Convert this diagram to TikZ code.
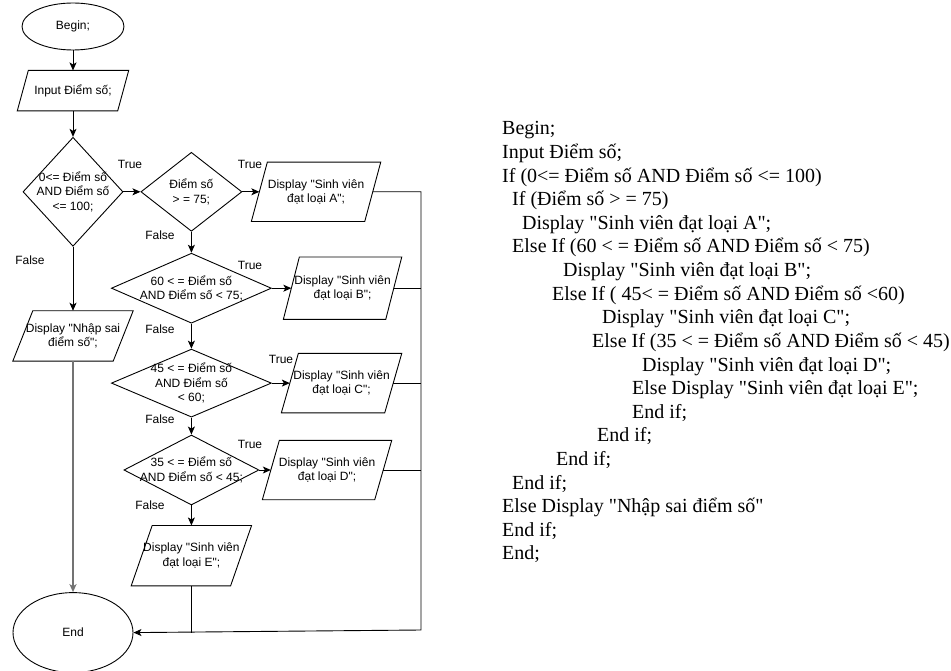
\documentclass[tikz,border=0pt]{standalone}
\usepackage{fontspec}
\setmainfont{Liberation Serif}[Ligatures=TeXOff]
\newfontfamily\flowfont{Liberation Sans}
\usetikzlibrary{shapes.geometric,positioning,arrows.meta}

% slanted outline round a node: name, slant
\newcommand\ioshape[2]{\draw[line width=0.9pt] (#1.south west) -- ([xshift=#2pt]#1.north west) -- (#1.north east) -- ([xshift=-#2pt]#1.south east) -- cycle;}

\begin{document}
\begin{tikzpicture}[x=1pt,y=-1pt]
\tikzstyle{base}=[draw=black, line width=0.9pt, font=\flowfont\fontsize{12}{14.5}\selectfont, align=center]
\tikzstyle{term}=[base, ellipse, inner sep=0pt]
\tikzstyle{decision}=[base, diamond, inner sep=-20pt]
\tikzstyle{io}=[rectangle, inner sep=0pt, font=\flowfont\fontsize{12}{14.5}\selectfont, align=center]
\tikzstyle{lbl}=[font=\flowfont\fontsize{12}{14.5}\selectfont, inner sep=0pt]
\tikzstyle{connect}=[-{Stealth[length=8pt, width=7pt, inset=2pt]}, line width=0.9pt]
\tikzstyle{line}=[line width=0.9pt]
\tikzstyle{code}=[font=\fontsize{20}{24}\selectfont, inner sep=0pt, anchor=base west]

\useasboundingbox (0,0) rectangle (951,671);

%% Start
  \node[term, minimum width=102pt, minimum height=47pt] (begin) at (73,26.5) {Begin;};
  \node[io, minimum width=111pt, minimum height=40pt] (input) [below=20pt of begin] {Input Điểm số;};
  \node[decision, minimum width=100pt, minimum height=109pt] (range) [below=26pt of input] {0<= Điểm số\\AND Điểm số\\<= 100;};
  \node[io, minimum width=120pt, minimum height=50pt] (wrong) [below=64pt of range] {Display "Nhập sai\\điểm số";};
  \node[term, minimum width=120pt, minimum height=80pt] (end) [below=231pt of wrong] {End};

%% Grades
  \node[decision, minimum width=101pt, minimum height=79pt] (gradeA) [right=17pt of range] {Điểm số\\> = 75;};
  \node[io, minimum width=129pt, minimum height=59pt] (dispA) [right=9pt of gradeA] {Display "Sinh viên\\đạt loại A";};
  \node[decision, minimum width=160pt, minimum height=70pt] (gradeB) [below=21pt of gradeA] {60 < = Điểm số\\AND Điểm số < 75;};
  \node[io, minimum width=118pt, minimum height=62pt] (dispB) [right=11.5pt of gradeB] {Display "Sinh viên\\đạt loại B";};
  \node[decision, minimum width=160pt, minimum height=68pt] (gradeC) [below=25pt of gradeB] {45 < = Điểm số\\AND Điểm số\\< 60;};
  \node[io, minimum width=120pt, minimum height=59pt] (dispC) [right=9.5pt of gradeC] {Display "Sinh viên\\đạt loại C";};
  \node[decision, minimum width=135pt, minimum height=70pt] (gradeD) [below=17pt of gradeC] {35 < = Điểm số\\AND Điểm số < 45;};
  \node[io, minimum width=129pt, minimum height=59pt] (dispD) [right=3pt of gradeD] {Display "Sinh viên\\đạt loại D";};
  \node[io, minimum width=120pt, minimum height=60pt] (dispE) [below=20pt of gradeD] {Display "Sinh viên\\đạt loại E";};

  \ioshape{input}{11}
  \ioshape{wrong}{20}
  \ioshape{dispA}{16}
  \ioshape{dispB}{16}
  \ioshape{dispC}{17}
  \ioshape{dispD}{17}
  \ioshape{dispE}{21}

  \coordinate (rail) at (421,630);

%% Branch labels
  \node[lbl] (t1) at (130,164) {True};
  \node[lbl] (f1) at (30,260) {False};
  \node[lbl] (t2) at (250,164) {True};
  \node[lbl] (f2) at (160,235) {False};
  \node[lbl] (t3) at (250,265) {True};
  \node[lbl] (f3) at (160,329) {False};
  \node[lbl] (t4) at (281,359) {True};
  \node[lbl] (f4) at (160,419) {False};
  \node[lbl] (t5) at (250,444) {True};
  \node[lbl] (f5) at (150,505) {False};

  \path
           (begin) edge [connect] (input)
           (input) edge [connect] (range)
           (range) edge [connect] (gradeA)
           (range) edge [connect] (wrong)
           (gradeA) edge [connect] ([xshift=8pt]dispA.west)
           (gradeA) edge [connect] (gradeB)
           (gradeB) edge [connect] ([xshift=8pt]dispB.west)
           (gradeB) edge [connect] (gradeC)
           (gradeC) edge [connect] ([xshift=8.5pt]dispC.west)
           (gradeC) edge [connect] (gradeD)
           (gradeD) edge [connect] ([xshift=8.5pt]dispD.west)
           (gradeD) edge [connect] (dispE);

  \draw[connect, draw=black!55, line width=1.6pt] (wrong) -- (end);

  % Joining back to End
  \draw[connect] ([xshift=-8pt]dispA.east) -| (rail) -- (end.east);
  \draw[line] ([xshift=-8pt]dispB.east) -- (dispB.east -| rail);
  \draw[line] ([xshift=-8.5pt]dispC.east) -- (dispC.east -| rail);
  \draw[line] ([xshift=-8.5pt]dispD.east) -- (dispD.east -| rail);
  \draw[line] (dispE.south) -- (dispE.south |- end.east);

%% Pseudocode
  \foreach \ind/\txt [count=\i] in {
      0/{Begin;},
      0/{Input Điểm số;},
      0/{If (0<= Điểm số AND Điểm số <= 100)},
      10/{If (Điểm số > = 75)},
      20/{Display "Sinh viên đạt loại A";},
      10/{Else If (60 < = Điểm số AND Điểm số < 75)},
      61/{Display "Sinh viên đạt loại B";},
      50/{Else If ( 45< = Điểm số AND Điểm số <60)},
      100/{Display "Sinh viên đạt loại C";},
      90/{Else If (35 < = Điểm số AND Điểm số < 45)},
      140/{Display "Sinh viên đạt loại D";},
      130/{Else Display "Sinh viên đạt loại E";},
      130/{End if;},
      95/{End if;},
      54/{End if;},
      10/{End if;},
      0/{Else Display "Nhập sai điểm số"},
      0/{End if;},
      0/{End;}}
    \node[code] (code\i) at ({502+\ind}, {135+23.6*(\i-1)}) {\txt};
\end{tikzpicture}
\end{document}
